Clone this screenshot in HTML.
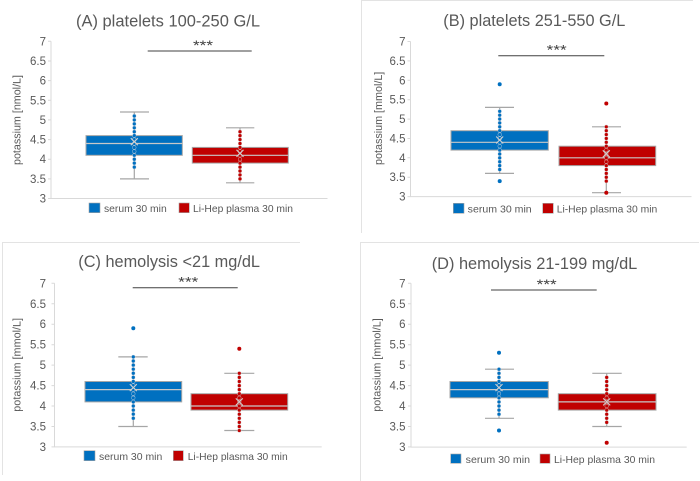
<!DOCTYPE html>
<html><head><meta charset="utf-8"><style>
html,body{margin:0;padding:0;background:#fff;}
svg{display:block;}
text{font-family:"Liberation Sans",Arial,sans-serif;fill:#595959;}
.t{font-size:16.5px;}
.k{font-size:11.5px;text-anchor:end;}
.y{font-size:10.8px;}
.l{font-size:10.5px;}
.s{font-size:14px;fill:#404040;}
.ax{stroke:#d9d9d9;stroke-width:1;fill:none;}
.bd{stroke:#e3e3e3;stroke-width:1;fill:none;}
.bx{stroke:#a6a6a6;stroke-width:1;}
.md{stroke:#c8c8c8;stroke-width:1.2;}
.wh{stroke:#a6a6a6;stroke-width:1.2;fill:none;}
.sg{stroke:#404040;stroke-width:1;}
.mn{stroke:#d0d0d0;stroke-width:1.1;fill:none;}
.db{stroke:#0070c0;stroke-width:3.2;stroke-linecap:round;}
.dr{stroke:#c00000;stroke-width:3.2;stroke-linecap:round;}
.ob{stroke:#c9d3de;stroke-width:4;stroke-linecap:round;}
.or{stroke:#d9c9c9;stroke-width:4;stroke-linecap:round;}
</style></head><body>
<svg width="700" height="481" viewBox="0 0 700 481" xmlns="http://www.w3.org/2000/svg">
<!-- panel borders -->
<path class="bd" d="M361.5 233 V0.5 H693"/>
<path class="bd" d="M2.5 475 V242.5 H300"/>
<path class="bd" d="M360.5 481 V242.5 H699"/>

<!-- ================= PANEL A ================= -->
<text class="t" x="76" y="26.5" textLength="184" lengthAdjust="spacingAndGlyphs">(A) platelets 100-250 G/L</text>
<path class="ax" d="M51 41.3 V198.5 H327.5"/>
<path class="ax" d="M48 41.3H51M48 61H51M48 80.6H51M48 100.3H51M48 119.9H51M48 139.6H51M48 159.2H51M48 178.9H51M48 198.5H51"/>
<g class="k">
<text x="46" y="45.3">7</text><text x="46" y="65">6.5</text><text x="46" y="84.6">6</text><text x="46" y="104.3">5.5</text><text x="46" y="123.9">5</text><text x="46" y="143.6">4.5</text><text x="46" y="163.2">4</text><text x="46" y="182.9">3.5</text><text x="46" y="202.5">3</text>
</g>
<text class="y" transform="translate(20.5,165) rotate(-90)" textLength="90" lengthAdjust="spacingAndGlyphs">potassium [nmol/L]</text>
<line class="sg" x1="147.7" y1="51" x2="251.7" y2="51"/>
<text class="s" x="193" y="50" textLength="20" lengthAdjust="spacingAndGlyphs">***</text>
<!-- serum -->
<path class="wh" d="M134.3 112 V178.85 M120 112 H149 M120 178.85 H149"/>
<rect class="bx" x="86" y="135.6" width="96.3" height="19.7" fill="#0070c0"/>
<line class="md" x1="86" y1="143.5" x2="182.3" y2="143.5"/>
<line class="ob" x1="134.3" y1="116" x2="134.3" y2="167.6" stroke-dasharray="0 3.93"/>
<line class="db" x1="134.3" y1="116" x2="134.3" y2="167.6" stroke-dasharray="0 3.93"/>
<path class="mn" d="M130.8 138.2 L137.8 145.2 M137.8 138.2 L130.8 145.2"/>
<!-- plasma -->
<path class="wh" d="M240 127.8 V182.8 M226 127.8 H254.3 M226 182.8 H254.3"/>
<rect class="bx" x="192.3" y="147.4" width="96" height="15.7" fill="#c00000"/>
<line class="md" x1="192.3" y1="155.3" x2="288.3" y2="155.3"/>
<line class="or" x1="240" y1="131.7" x2="240" y2="179.3" stroke-dasharray="0 3.93"/>
<line class="dr" x1="240" y1="131.7" x2="240" y2="179.3" stroke-dasharray="0 3.93"/>
<path class="mn" d="M236.5 149.8 L243.5 156.8 M243.5 149.8 L236.5 156.8"/>
<!-- legend -->
<rect x="89" y="203" width="11" height="9.7" fill="#0070c0" stroke="#a6a6a6" stroke-width="0.6"/>
<text class="l" x="104" y="212" textLength="62.7" lengthAdjust="spacingAndGlyphs">serum 30 min</text>
<rect x="179" y="203" width="10.3" height="9.7" fill="#c00000" stroke="#a6a6a6" stroke-width="0.6"/>
<text class="l" x="193" y="212" textLength="100" lengthAdjust="spacingAndGlyphs">Li-Hep plasma 30 min</text>

<!-- ================= PANEL B ================= -->
<text class="t" x="443.3" y="26.2" textLength="182" lengthAdjust="spacingAndGlyphs">(B) platelets 251-550 G/L</text>
<path class="ax" d="M410.5 41.5 V196.6 H691.5"/>
<path class="ax" d="M407.5 41.5H410.5M407.5 60.9H410.5M407.5 80.3H410.5M407.5 99.7H410.5M407.5 119.1H410.5M407.5 138.5H410.5M407.5 157.8H410.5M407.5 177.2H410.5M407.5 196.6H410.5"/>
<g class="k">
<text x="405.5" y="45.5">7</text><text x="405.5" y="64.9">6.5</text><text x="405.5" y="84.3">6</text><text x="405.5" y="103.7">5.5</text><text x="405.5" y="123.1">5</text><text x="405.5" y="142.5">4.5</text><text x="405.5" y="161.8">4</text><text x="405.5" y="181.2">3.5</text><text x="405.5" y="200.6">3</text>
</g>
<text class="y" transform="translate(382,165) rotate(-90)" textLength="93.3" lengthAdjust="spacingAndGlyphs">potassium [mmol/L]</text>
<line class="sg" x1="498.3" y1="55.7" x2="604.3" y2="55.7"/>
<text class="s" x="546.7" y="54.5" textLength="20" lengthAdjust="spacingAndGlyphs">***</text>
<!-- serum -->
<path class="wh" d="M499.7 107.4 V173.4 M485 107.4 H514 M485 173.4 H514"/>
<rect class="bx" x="451" y="130.7" width="97.3" height="19.4" fill="#0070c0"/>
<line class="md" x1="451" y1="142.3" x2="548.3" y2="142.3"/>
<line class="ob" x1="499.7" y1="111.3" x2="499.7" y2="169.9" stroke-dasharray="0 3.878"/>
<line class="db" x1="499.7" y1="111.3" x2="499.7" y2="169.9" stroke-dasharray="0 3.878"/>
<circle cx="499.7" cy="84.2" r="2" fill="#0070c0"/>
<circle cx="499.7" cy="181.1" r="2" fill="#0070c0"/>
<path class="mn" d="M496.2 136.5 L503.2 143.5 M503.2 136.5 L496.2 143.5"/>
<!-- plasma -->
<path class="wh" d="M606.3 126.8 V192.7 M592 126.8 H621 M592 192.7 H621"/>
<rect class="bx" x="559" y="146.2" width="96.7" height="19.4" fill="#c00000"/>
<line class="md" x1="559" y1="157.8" x2="655.7" y2="157.8"/>
<line class="or" x1="606.3" y1="126.8" x2="606.3" y2="181.5" stroke-dasharray="0 3.878"/>
<line class="dr" x1="606.3" y1="126.8" x2="606.3" y2="181.5" stroke-dasharray="0 3.878"/>
<circle cx="606.3" cy="103.5" r="2" fill="#c00000"/>
<circle cx="606.3" cy="192.7" r="2" fill="#c00000"/>
<path class="mn" d="M602.8 150.3 L609.8 157.3 M609.8 150.3 L602.8 157.3"/>
<!-- legend -->
<rect x="453.3" y="203.3" width="10.7" height="10" fill="#0070c0" stroke="#a6a6a6" stroke-width="0.6"/>
<text class="l" x="467.7" y="212.5" textLength="64" lengthAdjust="spacingAndGlyphs">serum 30 min</text>
<rect x="542.7" y="203.3" width="10.6" height="10" fill="#c00000" stroke="#a6a6a6" stroke-width="0.6"/>
<text class="l" x="556.7" y="212.5" textLength="100.6" lengthAdjust="spacingAndGlyphs">Li-Hep plasma 30 min</text>

<!-- ================= PANEL C ================= -->
<text class="t" x="78.3" y="267.2" textLength="181.7" lengthAdjust="spacingAndGlyphs">(C) hemolysis &lt;21 mg/dL</text>
<path class="ax" d="M54.5 283.3 V446.9 H321.7"/>
<path class="ax" d="M51.5 283.3H54.5M51.5 303.8H54.5M51.5 324.2H54.5M51.5 344.7H54.5M51.5 365.1H54.5M51.5 385.6H54.5M51.5 406H54.5M51.5 426.5H54.5M51.5 446.9H54.5"/>
<g class="k">
<text x="46" y="287.3">7</text><text x="46" y="307.8">6.5</text><text x="46" y="328.2">6</text><text x="46" y="348.7">5.5</text><text x="46" y="369.1">5</text><text x="46" y="389.6">4.5</text><text x="46" y="410">4</text><text x="46" y="430.5">3.5</text><text x="46" y="450.9">3</text>
</g>
<text class="y" transform="translate(20.5,411.7) rotate(-90)" textLength="93.7" lengthAdjust="spacingAndGlyphs">potassium [mmol/L]</text>
<line class="sg" x1="132.7" y1="287.7" x2="237.7" y2="287.7"/>
<text class="s" x="178.3" y="286.5" textLength="20" lengthAdjust="spacingAndGlyphs">***</text>
<!-- serum -->
<path class="wh" d="M133.3 356.9 V426.5 M118.3 356.9 H147.7 M118.3 426.5 H147.7"/>
<rect class="bx" x="85" y="381.5" width="96.7" height="20.4" fill="#0070c0"/>
<line class="md" x1="85" y1="389.6" x2="181.7" y2="389.6"/>
<line class="ob" x1="133.3" y1="356.9" x2="133.3" y2="418.8" stroke-dasharray="0 4.09"/>
<line class="db" x1="133.3" y1="356.9" x2="133.3" y2="418.8" stroke-dasharray="0 4.09"/>
<circle cx="133.3" cy="328.3" r="2" fill="#0070c0"/>
<path class="mn" d="M129.8 384.1 L136.8 391.1 M136.8 384.1 L129.8 391.1"/>
<!-- plasma -->
<path class="wh" d="M239.3 373.3 V430.5 M224.3 373.3 H254.3 M224.3 430.5 H254.3"/>
<rect class="bx" x="191" y="393.7" width="96.7" height="16.4" fill="#c00000"/>
<line class="md" x1="191" y1="406" x2="287.7" y2="406"/>
<line class="or" x1="239.3" y1="373.3" x2="239.3" y2="431" stroke-dasharray="0 4.09"/>
<line class="dr" x1="239.3" y1="373.3" x2="239.3" y2="431" stroke-dasharray="0 4.09"/>
<circle cx="239.3" cy="348.7" r="2" fill="#c00000"/>
<path class="mn" d="M235.8 398.4 L242.8 405.4 M242.8 398.4 L235.8 405.4"/>
<!-- legend -->
<rect x="84" y="450.7" width="11" height="10" fill="#0070c0" stroke="#a6a6a6" stroke-width="0.6"/>
<text class="l" x="99" y="460" textLength="63.3" lengthAdjust="spacingAndGlyphs">serum 30 min</text>
<rect x="173.3" y="450.7" width="10" height="10" fill="#c00000" stroke="#a6a6a6" stroke-width="0.6"/>
<text class="l" x="187.7" y="460" textLength="100" lengthAdjust="spacingAndGlyphs">Li-Hep plasma 30 min</text>

<!-- ================= PANEL D ================= -->
<text class="t" x="431.7" y="268.8" textLength="205.6" lengthAdjust="spacingAndGlyphs">(D) hemolysis 21-199 mg/dL</text>
<path class="ax" d="M411 283.3 V447.1 H686.7"/>
<path class="ax" d="M408 283.3H411M408 303.8H411M408 324.2H411M408 344.7H411M408 365.1H411M408 385.6H411M408 406H411M408 426.5H411M408 446.9H411"/>
<g class="k">
<text x="405.5" y="287.3">7</text><text x="405.5" y="307.8">6.5</text><text x="405.5" y="328.2">6</text><text x="405.5" y="348.7">5.5</text><text x="405.5" y="369.1">5</text><text x="405.5" y="389.6">4.5</text><text x="405.5" y="410">4</text><text x="405.5" y="430.5">3.5</text><text x="405.5" y="450.9">3</text>
</g>
<text class="y" transform="translate(380.5,411.7) rotate(-90)" textLength="93.4" lengthAdjust="spacingAndGlyphs">potassium [mmol/L]</text>
<line class="sg" x1="491" y1="290" x2="596.7" y2="290"/>
<text class="s" x="536.7" y="288.8" textLength="20" lengthAdjust="spacingAndGlyphs">***</text>
<!-- serum -->
<path class="wh" d="M499 369.2 V418.3 M485 369.2 H514 M485 418.3 H514"/>
<rect class="bx" x="450" y="381.5" width="98.3" height="16.3" fill="#0070c0"/>
<line class="md" x1="450" y1="389.6" x2="548.3" y2="389.6"/>
<line class="ob" x1="499" y1="369.2" x2="499" y2="414.6" stroke-dasharray="0 4.09"/>
<line class="db" x1="499" y1="369.2" x2="499" y2="414.6" stroke-dasharray="0 4.09"/>
<circle cx="499" cy="352.8" r="2" fill="#0070c0"/>
<circle cx="499" cy="430.5" r="2" fill="#0070c0"/>
<path class="mn" d="M495.5 384.1 L502.5 391.1 M502.5 384.1 L495.5 391.1"/>
<!-- plasma -->
<path class="wh" d="M606.7 373.3 V426.5 M592.3 373.3 H621.7 M592.3 426.5 H621.7"/>
<rect class="bx" x="558.3" y="393.7" width="97.7" height="16.4" fill="#c00000"/>
<line class="md" x1="558.3" y1="401.9" x2="656" y2="401.9"/>
<line class="or" x1="606.7" y1="377.4" x2="606.7" y2="422.8" stroke-dasharray="0 4.09"/>
<line class="dr" x1="606.7" y1="377.4" x2="606.7" y2="422.8" stroke-dasharray="0 4.09"/>
<circle cx="606.7" cy="442.8" r="2" fill="#c00000"/>
<path class="mn" d="M603.2 398.4 L610.2 405.4 M610.2 398.4 L603.2 405.4"/>
<!-- legend -->
<rect x="450.7" y="454" width="10.3" height="9.3" fill="#0070c0" stroke="#a6a6a6" stroke-width="0.6"/>
<text class="l" x="465.7" y="462.8" textLength="64.3" lengthAdjust="spacingAndGlyphs">serum 30 min</text>
<rect x="540" y="454" width="10" height="9.3" fill="#c00000" stroke="#a6a6a6" stroke-width="0.6"/>
<text class="l" x="554" y="462.8" textLength="101" lengthAdjust="spacingAndGlyphs">Li-Hep plasma 30 min</text>
</svg>
</body></html>
